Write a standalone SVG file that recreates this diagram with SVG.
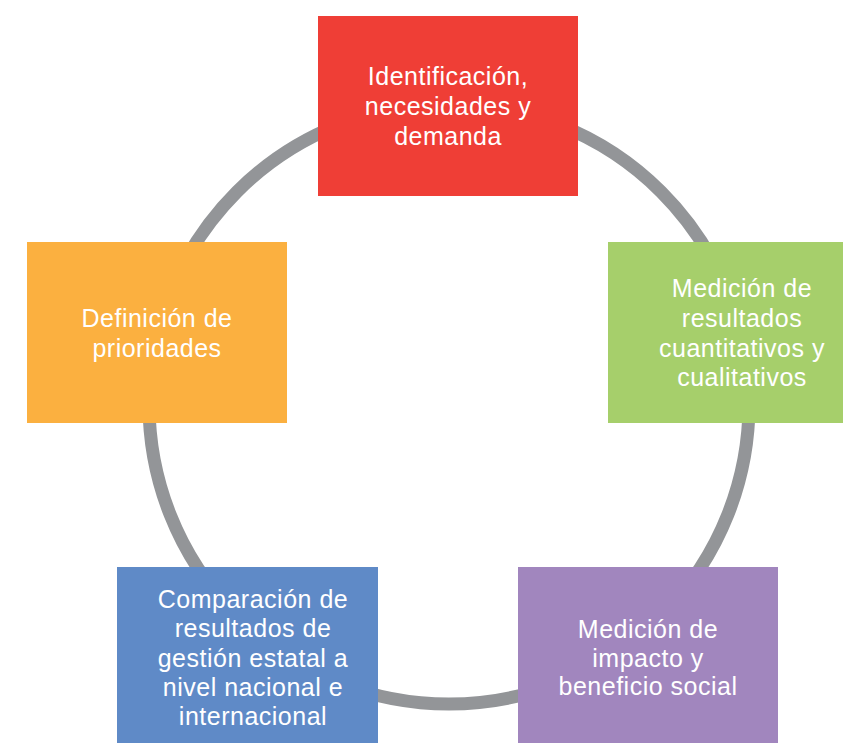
<svg xmlns="http://www.w3.org/2000/svg" width="843" height="743" viewBox="0 0 843 743">
<style>
.t{font-family:"Liberation Sans",Arial,sans-serif;font-size:25px;letter-spacing:0.5px;fill:#fff;text-anchor:middle}
</style>
<rect width="843" height="743" fill="#fff"/>
<g id="connectors">
<circle cx="449" cy="404" r="300" fill="none" stroke="#939598" stroke-width="13"/>
</g>
<g id="n1">
<rect x="318" y="16" width="260" height="180" fill="#EF3E36"/>
<text class="t" x="448" y="85">Identificación,<tspan x="448" y="115">necesidades y</tspan><tspan x="448" y="145">demanda</tspan></text>
</g>
<g id="n2">
<rect x="608" y="242" width="235" height="181" fill="#A6CF6B"/>
<text class="t" x="742" y="297">Medición de<tspan x="742" y="327">resultados</tspan><tspan x="742" y="356.5">cuantitativos y</tspan><tspan x="742" y="386">cualitativos</tspan></text>
</g>
<g id="n3">
<rect x="518" y="567" width="260" height="176" fill="#A186BE"/>
<text class="t" x="648" y="638">Medición de<tspan x="648" y="666.5">impacto y</tspan><tspan x="648" y="695">beneficio social</tspan></text>
</g>
<g id="n4">
<rect x="117" y="567" width="261" height="176" fill="#5F8AC7"/>
<text class="t" x="253" y="608">Comparación de<tspan x="253" y="637">resultados de</tspan><tspan x="253" y="666.5">gestión estatal a</tspan><tspan x="253" y="696">nivel nacional e</tspan><tspan x="253" y="725">internacional</tspan></text>
</g>
<g id="n5">
<rect x="27" y="242" width="260" height="181" fill="#FBB040"/>
<text class="t" x="157" y="327">Definición de<tspan x="157" y="357">prioridades</tspan></text>
</g>
</svg>
